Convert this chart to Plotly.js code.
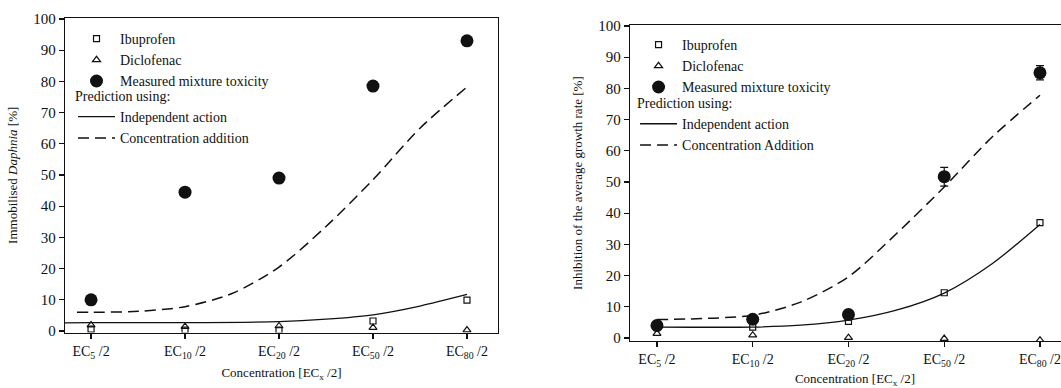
<!DOCTYPE html>
<html><head><meta charset="utf-8">
<script src="https://cdn.plot.ly/plotly-3.0.1.min.js"></script>
<style>html,body{margin:0;padding:0;overflow:hidden;background:#fff}</style>
</head><body><div id="chart" style="width:1080px;height:388px"></div>
<script>
const catPos = [0, 1, 2, 3, 4];
const tickLabels = ['EC<sub>5</sub> /2', 'EC<sub>10</sub> /2', 'EC<sub>20</sub> /2', 'EC<sub>50</sub> /2', 'EC<sub>80</sub> /2'];

// Left panel: Daphnia immobilisation
const daphIbuprofen = [0.6, 0.3, 0.3, 3.2, 9.9];
const daphDiclofenac = [1.9, 1.4, 1.6, 1.1, 0.3];
const daphMeasured = [10, 44.5, 49, 78.5, 93];
const daphIAx = [-0.28, 0, 1, 2, 2.5, 3, 3.5, 4];
const daphIAy = [2.6, 2.7, 2.7, 3.0, 3.8, 5.2, 8.0, 11.7];
const daphCAx = [-0.15, 0, 0.5, 1, 1.5, 2, 2.5, 3, 3.5, 4];
const daphCAy = [6.0, 6.0, 6.3, 7.8, 12, 20.5, 33.5, 48.5, 65, 78.2];

// Right panel: growth rate inhibition
const algIbuprofen = [3.3, 3.5, 5.3, 14.5, 37];
const algDiclofenac = [1.4, 0.9, 0.1, -0.2, -0.7];
const algMeasured = [4, 6, 7.5, 51.7, 85];
const algMeasuredErr = [0, 0, 0, 3, 2.3];
const algIAx = [0, 1, 1.5, 2, 2.5, 3, 3.5, 4];
const algIAy = [3.5, 3.5, 4.1, 5.7, 8.9, 14.4, 23.8, 36.4];
const algCAx = [0, 1, 1.5, 2, 2.5, 3, 3.5, 4];
const algCAy = [5.9, 7.3, 11.5, 19.6, 33.4, 48.4, 64.4, 77.8];

const INK = '#111';
const FONT = '"Liberation Serif", "Times New Roman", serif';

function panelTraces(xa, ya, ibu, dic, meas, err, iaX, iaY, caX, caY, caName, lgA, lgB) {
  const t = [
    {x: catPos, y: ibu, name: 'Ibuprofen', type: 'scatter', mode: 'markers', xaxis: xa, yaxis: ya, legend: lgA,
      marker: {symbol: 'square-open', size: 6, color: INK, line: {width: 1.2, color: INK}}},
    {x: catPos, y: dic, name: 'Diclofenac', type: 'scatter', mode: 'markers', xaxis: xa, yaxis: ya, legend: lgA,
      marker: {symbol: 'triangle-up-open', size: 7, color: INK, line: {width: 1.2, color: INK}}},
    {x: catPos, y: meas, name: 'Measured mixture toxicity', type: 'scatter', mode: 'markers', xaxis: xa, yaxis: ya, legend: lgA,
      marker: {symbol: 'circle', size: 13, color: INK}},
    {x: iaX, y: iaY, name: 'Independent action', type: 'scatter', mode: 'lines', xaxis: xa, yaxis: ya, legend: lgB,
      line: {color: INK, width: 1.3, shape: 'spline', smoothing: 0.8}},
    {x: caX, y: caY, name: caName, type: 'scatter', mode: 'lines', xaxis: xa, yaxis: ya, legend: lgB,
      line: {color: INK, width: 1.5, dash: '11px,6px', shape: 'spline', smoothing: 0.8}}
  ];
  if (err) {
    t[2].error_y = {type: 'data', array: err, visible: true, color: INK, thickness: 1.2, width: 4};
  }
  return t;
}

const data = [].concat(
  panelTraces('x', 'y', daphIbuprofen, daphDiclofenac, daphMeasured, null, daphIAx, daphIAy, daphCAx, daphCAy, 'Concentration addition', 'legend', 'legend2'),
  panelTraces('x2', 'y2', algIbuprofen, algDiclofenac, algMeasured, algMeasuredErr, algIAx, algIAy, algCAx, algCAy, 'Concentration Addition', 'legend3', 'legend4')
);

function xAxis(domain, range, anchor, standoff) {
  return {domain: domain, range: range, anchor: anchor, tickmode: 'array', tickvals: catPos, ticktext: tickLabels,
    ticks: 'outside', ticklen: 5, tickwidth: 1.2, tickcolor: INK, showline: true, mirror: true, linecolor: INK, linewidth: 1.3,
    showgrid: false, zeroline: false, tickfont: {size: 14, color: INK},
    title: {text: 'Concentration [EC<sub>x</sub> /2]', font: {size: 13, color: INK}, standoff: standoff}};
}
function yAxis(domain, range, anchor, title, standoff) {
  return {domain: domain, range: range, anchor: anchor, tickmode: 'linear', tick0: 0, dtick: 10,
    ticks: 'outside', ticklen: 5, tickwidth: 1.2, tickcolor: INK, showline: true, mirror: true, linecolor: INK, linewidth: 1.3,
    showgrid: false, zeroline: false, tickfont: {size: 15, color: INK},
    title: {text: title, font: {size: 13, color: INK}, standoff: standoff}};
}
function lg(x, y, title) {
  const o = {x: x, y: y, xanchor: 'left', yanchor: 'top', bgcolor: 'rgba(0,0,0,0)', borderwidth: 0,
    font: {size: 14, color: INK, family: FONT}, itemwidth: 37, tracegroupgap: 0};
  if (title) o.title = {text: title, font: {size: 14, color: INK, family: FONT}};
  return o;
}

const layout = {
  width: 1080, height: 388,
  margin: {l: 0, r: 0, t: 0, b: 0},
  paper_bgcolor: '#fff', plot_bgcolor: '#fff',
  font: {family: FONT, color: INK},
  showlegend: true,
  xaxis: xAxis([0.0602, 0.4611], [-0.277, 4.33], 'y', 8),
  yaxis: yAxis([0.1429, 0.9535], [-0.5, 100.3], 'x', 'Immobilised <i>Daphnia</i> [%]', 12),
  xaxis2: xAxis([0.5833, 1], [-0.282, 4.418], 'y2', 14),
  yaxis2: yAxis([0.1209, 0.9354], [-1, 100.3], 'x2', 'Inhibition of the average growth rate [%]', 12),
  legend: lg(0.0676, 0.9407),
  legend2: lg(0.0676, 0.7863, 'Prediction using:'),
  legend3: lg(0.588, 0.9252),
  legend4: lg(0.588, 0.7682, 'Prediction using:')
};

Plotly.newPlot('chart', data, layout, {displayModeBar: false, staticPlot: true});
</script></body></html>
